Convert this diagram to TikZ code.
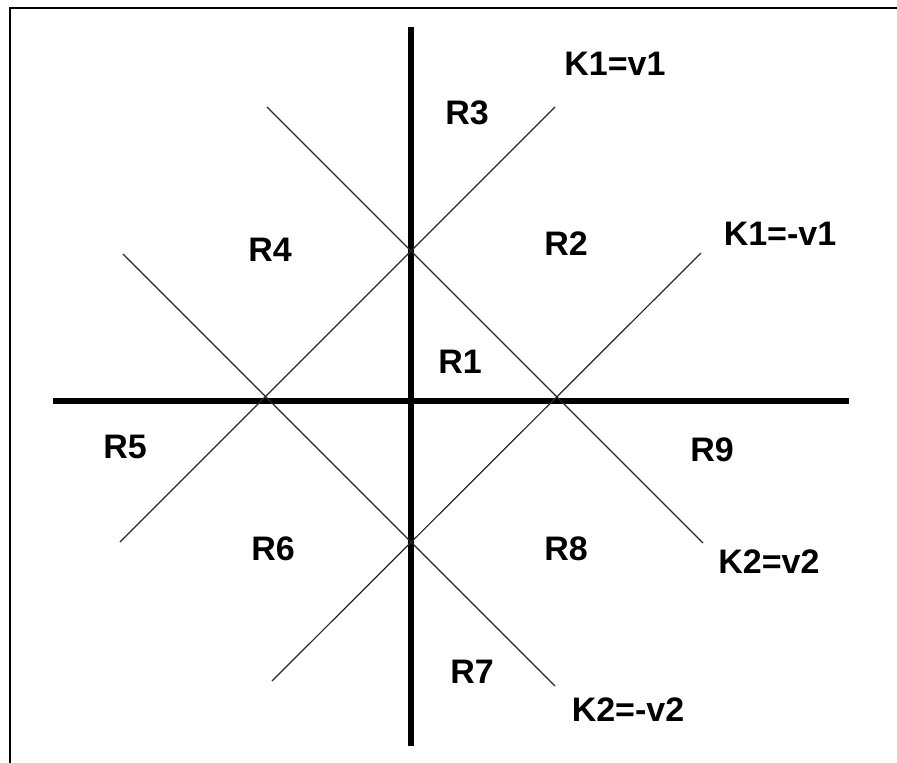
\documentclass[tikz,border=0pt]{standalone}
\usepackage{fontspec}
\setmainfont{Liberation Sans}
\begin{document}
\begin{tikzpicture}[x=1pt,y=-1pt,
  axis/.style={line width=6pt},
  diag/.style={line width=1.2pt,black!85},
  lbl/.style={font=\fontsize{34}{36}\selectfont\bfseries,inner sep=0pt}]
\useasboundingbox (0,0) rectangle (897,763);
\fill[white] (0,0) rectangle (897,763);
% frame
\draw[line width=2pt] (9.5,770) -- (9.5,7.5) -- (900,7.5);
% axes
\coordinate (vt) at (411,27);
\coordinate (vb) at (411,746);
\coordinate (hl) at (53,401);
\coordinate (hr) at (849,401);
\draw[axis] (vt) -- (vb);
\draw[axis] (hl) -- (hr);
% diagonals
\coordinate (a1) at (555,107); \coordinate (a2) at (120,542);
\coordinate (b1) at (701,253); \coordinate (b2) at (272,681);
\coordinate (c1) at (267,107); \coordinate (c2) at (703,543);
\coordinate (d1) at (123,254); \coordinate (d2) at (555,686);
\draw[diag] (a1) -- (a2);
\draw[diag] (b1) -- (b2);
\draw[diag] (c1) -- (c2);
\draw[diag] (d1) -- (d2);
% line labels
\node[lbl] (k1) at (615,64) {K1=v1};
\node[lbl] (k1m) at (780,234) {K1=-v1};
\node[lbl] (k2) at (769,562) {K2=v2};
\node[lbl] (k2m) at (628,710) {K2=-v2};
% regions
\node[lbl] (r1) at (460,362) {R1};
\node[lbl] (r2) at (566,244) {R2};
\node[lbl] (r3) at (467,113) {R3};
\node[lbl] (r4) at (270,250) {R4};
\node[lbl] (r5) at (125,447) {R5};
\node[lbl] (r6) at (273,549) {R6};
\node[lbl] (r7) at (472,672) {R7};
\node[lbl] (r8) at (566,549) {R8};
\node[lbl] (r9) at (712,450) {R9};
\end{tikzpicture}
\end{document}
